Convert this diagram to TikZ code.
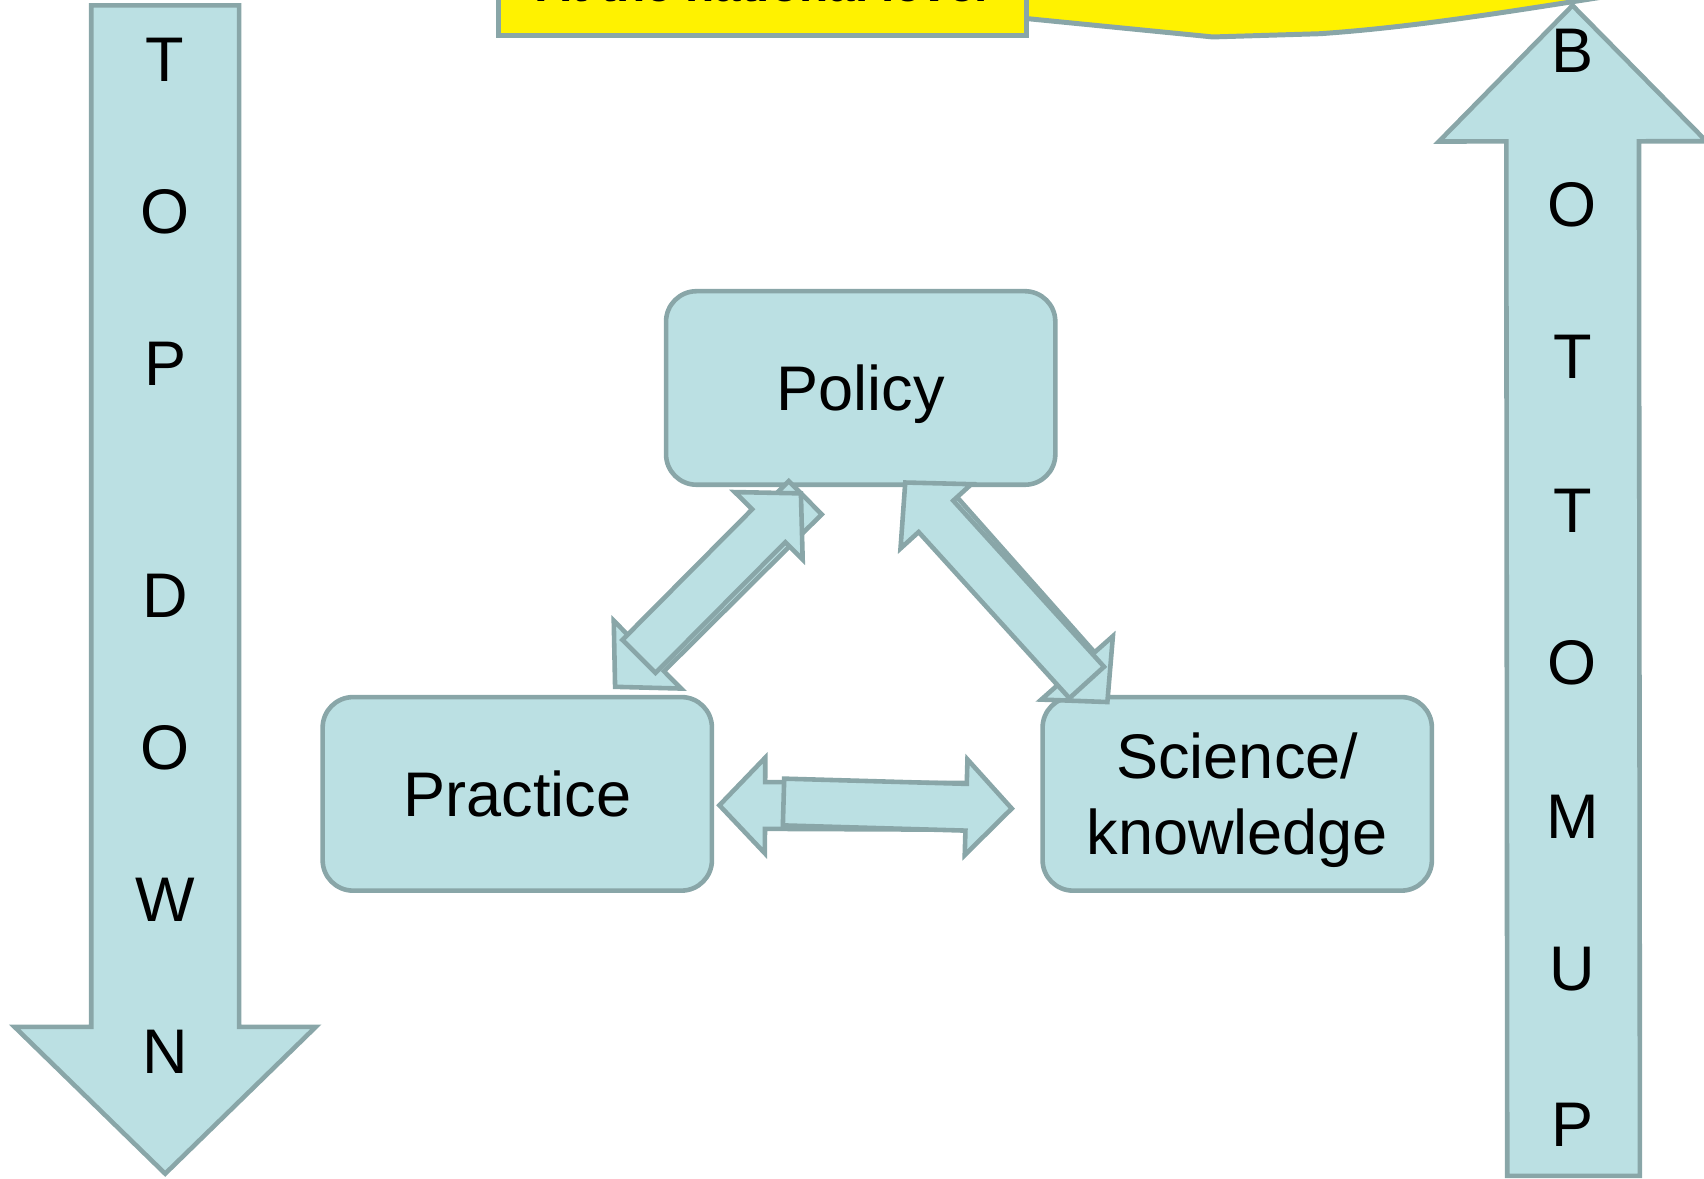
\documentclass[tikz,border=0pt]{standalone}
\usepackage{fontspec}
\setmainfont{Liberation Sans}
\usetikzlibrary{calc}
\definecolor{boxfill}{RGB}{187,224,227}
\definecolor{boxline}{RGB}{137,166,168}
\tikzset{
  blockarrow/.style n args={3}{fill=boxfill, draw=boxline, line width=1.2pt, line join=miter,
    to path={($(\tikztostart)!#1!90:(\tikztotarget)$)
      -- ($(\tikztotarget)!#3!(\tikztostart)!#1!90:(\tikztotarget)$)
      -- ($(\tikztotarget)!#3!(\tikztostart)!#2!90:(\tikztotarget)$)
      -- (\tikztotarget)
      -- ($(\tikztotarget)!#3!(\tikztostart)!#2!-90:(\tikztotarget)$)
      -- ($(\tikztotarget)!#3!(\tikztostart)!#1!-90:(\tikztotarget)$)
      -- ($(\tikztostart)!#1!-90:(\tikztotarget)$) -- cycle}},
  linkarrow/.style={blockarrow={0.215cm}{0.44cm}{0.42cm}},
  stagebox/.style={rectangle, rounded corners=0.28cm, fill=boxfill, draw=boxline, line width=1.2pt,
    minimum width=3.58cm, minimum height=1.78cm, align=center, text depth=0pt,
    font=\fontsize{16.5}{20}\selectfont},
  letter/.style={inner sep=0pt, font=\fontsize{16.5}{20}\selectfont}
}
\begin{document}
\begin{tikzpicture}[x=0.01cm,y=-0.01cm]
 \useasboundingbox (0,0) rectangle (1568,1084);
 %national level callout
 \draw[fill=yellow, draw=boxline, line width=1.3pt] (944,-60) -- (944,17) -- (1116,34) -- (1215,31)
   .. controls (1300,25) and (1380,12) .. (1470,-2) -- (1470,-60) -- cycle;
 \node[draw=boxline, fill=yellow, line width=1.3pt, minimum width=4.85cm, minimum height=0.94cm,
   text depth=0pt, anchor=south, font=\bfseries\fontsize{12.5}{15}\selectfont] (national) at (701.5,35) {At the national level};

 %top down
 \coordinate (td-tail) at (152,5);
 \coordinate (td-tip) at (152,1080);
 \draw[blockarrow={0.68cm}{1.385cm}{1.35cm}] (td-tail) to (td-tip);
 \foreach \ch/\y [count=\i] in {T/55,O/195,P/335,D/548,O/688,W/828,N/968}
   \node[letter] (td\i) at (152,\y) {\ch};

 %bottom up
 \coordinate (bu-tail) at (1448,1082);
 \coordinate (bu-tip) at (1447,5);
 \draw[blockarrow={0.61cm}{1.23cm}{1.25cm}] (bu-tail) to (bu-tip);
 \foreach \ch/\y [count=\i] in {B/47,O/188,T/328,T/470,O/610,M/752,U/892,P/1035}
   \node[letter] (bu\i) at (1447,\y) {\ch};

 %stages
 \node[stagebox] (policy) at (792,357) {Policy};
 \node[stagebox] (practice) at (476,730.5) {Practice};
 \node[stagebox] (science) at (1138.5,730.5) {Science/\\knowledge};

 %policy - practice
 \coordinate (pol-l) at (741,458);
 \coordinate (pra-t) at (566,632);
 \coordinate (pra-tail) at (588,604);
 \coordinate (pol-ltip) at (737,454);
 \draw[linkarrow] (pol-l) to (pra-t);
 \draw[linkarrow] (pra-tail) to (pol-ltip);

 %policy - science
 \coordinate (pol-r) at (856,462);
 \coordinate (sci-t) at (1019,646);
 \coordinate (sci-tail) at (1000,628);
 \coordinate (pol-rtip) at (833,444);
 \draw[linkarrow] (pol-r) to (sci-t);
 \draw[linkarrow] (sci-tail) to (pol-rtip);

 %practice - science
 \coordinate (sci-l) at (889,742);
 \coordinate (pra-r) at (662,741);
 \coordinate (pra-rtail) at (721,738);
 \coordinate (sci-ltip) at (931,744);
 \draw[linkarrow] (sci-l) to (pra-r);
 \draw[linkarrow] (pra-rtail) to (sci-ltip);
\end{tikzpicture}
\end{document}
